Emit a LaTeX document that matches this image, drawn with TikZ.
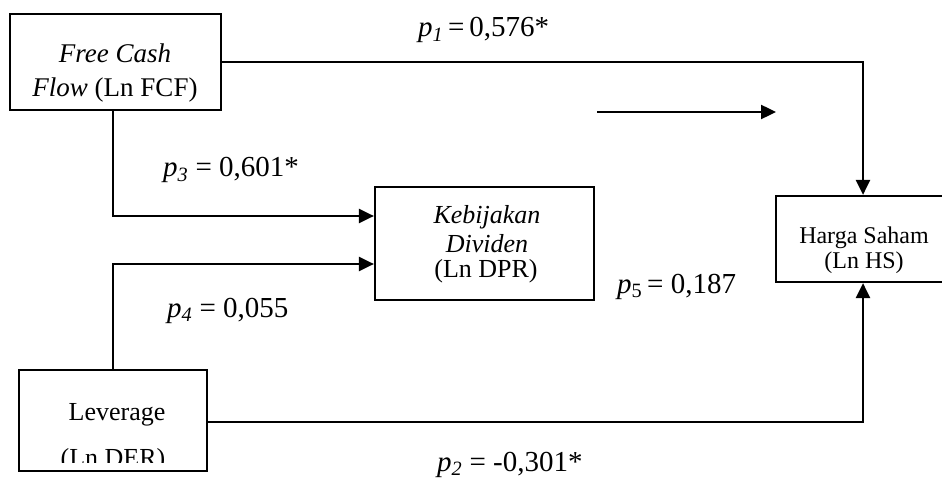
\documentclass[tikz,border=0pt]{standalone}
\usepackage{fontspec}
\setmainfont{Liberation Serif}
\usetikzlibrary{arrows.meta}
\begin{document}
\begin{tikzpicture}[x=1pt,y=-1pt,
  box/.style={draw,line width=2.2pt,rectangle,inner sep=0pt},
  txt/.style={anchor=base,inner sep=0pt,font=\fontsize{26}{30}\selectfont},
  lbl/.style={anchor=base west,inner sep=0pt,font=\fontsize{29}{33}\selectfont},
  conn/.style={line width=2.4pt},
  arr/.style={conn,-{Triangle[length=15pt,width=14pt]}}]
\useasboundingbox (0,0) rectangle (942,481);
\clip (0,0) rectangle (942,481);
% boxes
\node[box,minimum width=211pt,minimum height=96pt] (fcf) at (115.5,62) {};
\node[box,minimum width=219pt,minimum height=113pt] (keb) at (484.5,243.5) {};
\node[box,minimum width=200pt,minimum height=86pt] (hs) at (876,239) {};
\node[box,minimum width=188pt,minimum height=101pt] (lev) at (113,420.5) {};
% texts
\node[txt,font=\fontsize{27}{31}\selectfont] (fcf1) at (115,63) {\itshape Free Cash};
\node[txt,font=\fontsize{27}{31}\selectfont] (fcf2) at (115,97) {\textit{Flow} (Ln FCF)};
\node[txt] (keb1) at (487,223) {\itshape Kebijakan};
\node[txt] (keb2) at (487,252) {\itshape Dividen};
\node[txt] (keb3) at (486,277) {(Ln DPR)};
\node[txt,font=\fontsize{24}{28}\selectfont] (hs1) at (864,243) {Harga Saham};
\node[txt,font=\fontsize{24}{28}\selectfont] (hs2) at (864,268) {(Ln HS)};
\node[txt] (lev1) at (117,420) {Leverage};
\begin{scope}
\clip (20,371) rectangle (206,462);
\node[txt] (lev2) at (113,466) {(Ln DER)};
\end{scope}
% labels
\node[lbl] (p1) at (418,37) {\textit{p}\textsubscript{\textit{1}}\,=\,0,576*};
\node[lbl] (p3) at (163,177) {\textit{p}\textsubscript{\textit{3}} = 0,601*};
\node[lbl] (p4) at (167,317) {\textit{p}\textsubscript{\textit{4}} = 0,055};
\node[lbl] (p5) at (617,293) {\textit{p}\textsubscript{5}\,= 0,187};
\node[lbl] (p2) at (437,471) {\textit{p}\textsubscript{\textit{2}} = -0,301*};
% connectors
\draw[arr] (fcf.east |- 0,62) -- (863,62) -- (hs.north -| 863,0);
\draw[arr] (fcf.south -| 113,0) -- (113,216) -- (keb.west |- 0,216);
\draw[arr] (lev.north -| 113,0) -- (113,264) -- (keb.west |- 0,264);
\draw[arr] (lev.east |- 0,422) -- (863,422) -- (hs.south -| 863,0);
\coordinate (fa) at (597,112);
\coordinate (fb) at (776,112);
\draw[arr] (fa) -- (fb);
\end{tikzpicture}
\end{document}
